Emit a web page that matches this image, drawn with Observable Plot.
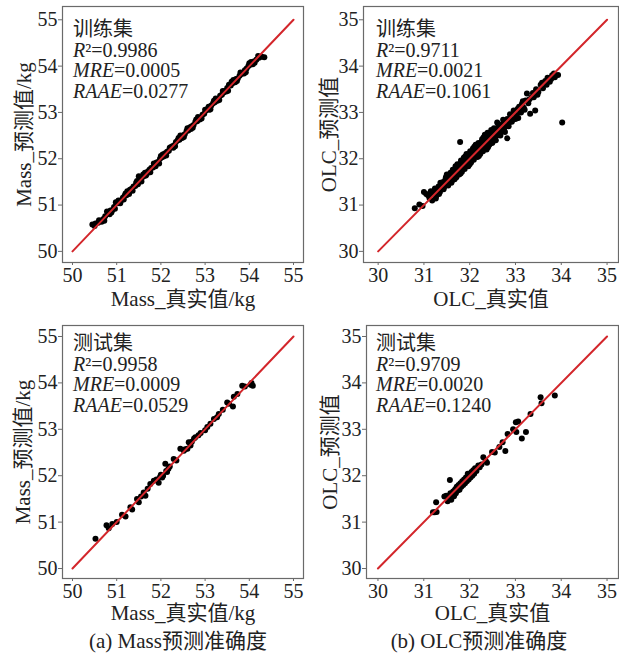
<!DOCTYPE html>
<html>
<head>
<meta charset="utf-8">
<script src="https://cdn.jsdelivr.net/npm/d3@7"></script>
<script src="https://cdn.jsdelivr.net/npm/@observablehq/plot@0.6"></script>
<style>
  html, body { margin: 0; padding: 0; background: #fff; }
  #chart { position: relative; width: 619px; height: 653px; background: #fff; overflow: hidden;
           font-family: "Liberation Serif", "Times New Roman", "Noto Sans CJK SC", serif; color: #222; }
  .panel { position: absolute; }
  .note { position: absolute; font-size: 20px; line-height: 20.6px; white-space: nowrap; color: #222; }
  .note i { font-style: italic; }
  .caption { position: absolute; font-size: 21px; line-height: 22px; text-align: center; white-space: nowrap; color: #222; }
</style>
</head>
<body>
<div id="chart"></div>
<script>
// Tick values for the two quantities
const massTicks = [50, 51, 52, 53, 54, 55];
const olcTicks = [30, 31, 32, 33, 34, 35];

// 1:1 reference line ends
const massDiag = [50, 55];
const olcDiag = [30, 35];

// Mass, training set: [true, predicted] (kg)
const massTrain = [
  [50.45,50.58],[50.52,50.60],[50.58,50.62],[50.64,50.66],[50.66,50.64],[50.70,50.70],[50.74,50.76],
  [50.78,50.86],[50.82,50.84],[50.86,50.88],[50.88,50.84],[50.90,50.89],[50.94,50.96],[50.98,51.06],
  [51.02,51.04],[51.06,51.08],[51.08,51.04],[51.10,51.10],[51.14,51.16],[51.18,51.20],[51.20,51.25],
  [51.22,51.21],[51.26,51.27],[51.28,51.24],[51.30,51.33],[51.34,51.35],[51.38,51.40],[51.42,51.41],
  [51.46,51.52],[51.48,51.45],[51.50,51.62],[51.54,51.56],[51.58,51.60],[51.60,51.66],[51.62,51.63],
  [51.66,51.64],[51.68,51.67],[51.70,51.72],[51.74,51.76],[51.78,51.80],[51.82,51.81],[51.86,51.87],
  [51.88,51.84],[51.90,51.92],[51.94,51.93],[51.98,52.00],[52.00,52.06],[52.02,52.03],[52.06,52.05],
  [52.08,52.10],[52.10,52.12],[52.14,52.15],[52.18,52.17],[52.22,52.25],[52.26,52.27],[52.28,52.24],
  [52.30,52.29],[52.34,52.36],[52.38,52.40],[52.40,52.45],[52.42,52.41],[52.46,52.48],[52.48,52.45],
  [52.50,52.50],[52.54,52.53],[52.58,52.60],[52.62,52.61],[52.66,52.68],[52.68,52.64],[52.70,52.70],
  [52.74,52.73],[52.78,52.80],[52.80,52.85],[52.82,52.81],[52.86,52.87],[52.88,52.85],[52.90,52.88],
  [52.94,52.95],[52.98,52.97],[53.02,53.04],[53.06,53.08],[53.08,53.12],[53.10,53.06],[53.14,53.15],
  [53.18,53.20],[53.20,53.25],[53.22,53.22],[53.26,53.28],[53.28,53.25],[53.30,53.29],[53.34,53.36],
  [53.38,53.38],[53.42,53.43],[53.46,53.47],[53.48,53.45],[53.50,53.53],[53.54,53.60],[53.58,53.58],
  [53.60,53.66],[53.62,53.63],[53.66,53.67],[53.68,53.65],[53.70,53.72],[53.74,53.73],[53.78,53.79],
  [53.82,53.83],[53.86,53.86],[53.88,53.84],[53.90,53.91],[53.94,53.95],[53.98,54.00],[54.00,54.06],
  [54.02,54.03],[54.06,54.06],[54.08,54.04],[54.10,54.10],[54.16,54.14],[54.22,54.18],[54.28,54.20],
  [54.34,54.19],
  [50.50,50.55],[50.60,50.67],[50.72,50.66],[50.84,50.80],[50.96,50.92],[51.04,51.10],[51.16,51.12],
  [51.24,51.30],[51.36,51.31],[51.44,51.48],[51.56,51.51],[51.64,51.70],[51.76,51.71],[51.84,51.90],
  [51.96,51.90],[52.04,52.09],[52.12,52.07],[52.20,52.24],[52.32,52.27],[52.44,52.50],[52.52,52.47],
  [52.60,52.66],[52.72,52.67],[52.84,52.90],[52.92,52.87],[53.00,53.06],[53.12,53.07],[53.24,53.30],
  [53.32,53.27],[53.40,53.46],[53.52,53.47],[53.64,53.70],[53.72,53.68],[53.80,53.86],[53.92,53.87],
  [54.04,54.09],[54.12,54.07],[54.20,54.22]
];

// OLC, training set: [true, predicted]
const olcTrain = [
  [30.80,30.93],[30.90,31.01],[30.97,30.98],[31.00,31.28],[31.05,31.24],[31.09,31.21],[31.12,31.15],
  [31.15,31.30],[31.18,31.10],[31.20,31.25],[31.24,31.36],[31.27,31.20],[31.30,31.32],[31.32,31.40],
  [31.35,31.28],[31.38,31.45],[31.40,31.36],[31.42,31.50],[31.45,31.40],[31.45,31.48],[31.47,31.55],
  [31.50,31.46],[31.50,31.66],[31.52,31.60],[31.55,31.50],[31.55,31.58],[31.57,31.62],[31.60,31.56],
  [31.60,31.48],[31.62,31.70],[31.64,31.60],[31.65,31.67],[31.66,31.74],[31.68,31.64],[31.70,31.78],
  [31.70,31.82],[31.72,31.68],[31.74,31.82],[31.75,31.78],[31.76,31.72],[31.78,31.88],[31.79,32.36],
  [31.80,31.76],[31.80,31.68],[31.82,31.92],[31.84,31.80],[31.85,31.86],[31.86,31.95],[31.88,31.84],
  [31.90,32.00],[31.90,32.05],[31.92,31.88],[31.94,32.04],[31.95,31.97],[31.96,31.90],[31.98,32.08],
  [32.00,31.96],[32.00,31.88],[32.02,32.12],[32.04,32.00],[32.05,32.07],[32.06,32.16],[32.08,32.02],
  [32.10,32.20],[32.10,32.26],[32.12,32.06],[32.14,32.24],[32.15,32.17],[32.16,32.10],[32.18,32.28],
  [32.20,32.14],[32.20,32.06],[32.22,32.30],[32.24,32.18],[32.25,32.26],[32.26,32.36],[32.28,32.22],
  [32.30,32.40],[32.30,32.46],[32.32,32.24],[32.34,32.44],[32.35,32.37],[32.36,32.30],[32.38,32.50],
  [32.40,32.32],[32.40,32.25],[32.42,32.54],[32.44,32.38],[32.45,32.47],[32.46,32.56],[32.48,32.42],
  [32.50,32.58],[32.50,32.36],[32.52,32.44],[32.55,32.62],[32.55,32.48],[32.58,32.50],[32.60,32.66],
  [32.60,32.78],[32.62,32.52],[32.65,32.70],[32.65,32.56],[32.68,32.58],[32.70,32.74],[32.72,32.64],
  [32.75,32.80],[32.75,32.65],[32.78,32.70],[32.82,32.44],[32.82,32.86],[32.86,32.78],[32.90,32.92],
  [32.94,32.84],[32.98,33.00],[33.02,32.94],[33.06,32.88],[33.05,33.08],[33.10,33.02],[33.14,33.18],
  [33.18,33.10],[33.22,33.26],[33.25,33.41],[33.28,33.20],[33.32,32.97],[33.35,33.32],[33.40,33.33],
  [33.43,33.04],[33.45,33.50],[33.50,33.44],[33.55,33.60],[33.60,33.52],[33.65,33.68],[33.70,33.75],
  [33.75,33.66],[33.80,33.80],[33.86,33.76],[33.93,33.81],[34.02,32.78],
  [31.22,31.30],[31.26,31.14],[31.33,31.24],[31.36,31.48],[31.43,31.34],[31.48,31.60],[31.53,31.42],
  [31.58,31.70],[31.61,31.52],[31.63,31.76],[31.67,31.56],[31.69,31.84],[31.71,31.60],[31.73,31.88],
  [31.77,31.66],[31.81,31.96],[31.83,31.72],[31.87,32.02],[31.89,31.78],[31.91,31.94],[31.93,32.10],
  [31.97,31.84],[31.99,32.02],[32.01,32.16],[32.03,31.92],[32.07,32.22],[32.09,31.98],[32.11,32.14],
  [32.13,32.30],[32.17,32.04],[32.19,32.34],[32.21,32.22],[32.23,32.10],[32.27,32.42],[32.29,32.16],
  [32.31,32.32],[32.33,32.52],[32.37,32.20],[32.39,32.56],[32.41,32.40],[32.43,32.30],[32.47,32.62],
  [32.49,32.34],[32.51,32.50],[32.53,32.66],[32.57,32.40],[32.59,32.60],[32.63,32.74],[32.67,32.50],
  [32.71,32.68],[32.73,32.84],[32.77,32.58],[32.85,32.70],[32.88,32.96],[32.92,32.80],[32.96,33.04],
  [33.00,32.86],[33.08,33.12],[33.12,33.00],[33.16,33.24],[33.20,33.06],[33.30,33.28],[33.38,33.42],
  [33.48,33.38],[33.58,33.64],[33.68,33.60],[33.78,33.72],[33.84,33.84]
];

// Mass, test set: [true, predicted] (kg)
const massTest = [
  [50.52,50.64],[50.77,50.93],[50.82,50.87],[50.90,50.96],[51.00,51.00],[51.12,51.16],[51.20,51.12],
  [51.31,51.32],[51.35,51.27],[51.46,51.50],[51.50,51.43],[51.55,51.55],[51.61,51.64],[51.65,51.57],
  [51.70,51.72],[51.76,51.82],[51.84,51.89],[51.90,51.92],[51.95,51.85],[51.98,51.97],[52.00,52.02],
  [52.03,51.96],[52.05,52.00],[52.10,52.26],[52.12,52.10],[52.14,52.08],[52.17,52.15],[52.20,52.20],
  [52.29,52.36],[52.35,52.33],[52.44,52.58],[52.52,52.54],[52.55,52.57],[52.60,52.58],[52.63,52.72],
  [52.67,52.65],[52.70,52.73],[52.75,52.80],[52.78,52.83],[52.85,52.87],[52.90,52.92],[53.00,52.98],
  [53.05,53.05],[53.12,53.12],[53.20,53.22],[53.27,53.26],[53.31,53.33],[53.40,53.42],[53.50,53.58],
  [53.54,53.55],[53.63,53.49],[53.65,53.70],[53.73,53.76],[53.84,53.94],[53.90,53.92],[54.03,53.96],
  [54.05,54.00],[54.08,53.94]
];

// OLC, test set: [true, predicted]
const olcTest = [
  [31.20,31.21],[31.24,31.21],[31.28,31.22],[31.27,31.43],[31.45,31.55],[31.49,31.57],[31.52,31.45],
  [31.55,31.52],[31.57,31.91],[31.58,31.62],[31.60,31.48],[31.62,31.58],[31.64,31.66],[31.65,31.62],
  [31.66,31.56],[31.68,31.70],[31.70,31.62],[31.70,31.72],[31.72,31.76],[31.74,31.68],[31.75,31.74],
  [31.76,31.80],[31.77,31.75],[31.78,31.70],[31.80,31.84],[31.80,31.78],[31.82,31.76],[31.84,31.88],
  [31.85,31.84],[31.86,31.80],[31.88,31.92],[31.90,31.84],[31.90,31.90],[31.92,31.96],[31.94,31.88],
  [31.95,31.94],[31.96,32.04],[31.98,31.92],[32.00,32.02],[32.00,31.98],[32.02,31.96],[32.04,32.08],
  [32.05,32.05],[32.06,32.00],[32.08,32.12],[32.10,32.04],[32.12,32.16],[32.15,32.10],[32.19,32.22],
  [32.22,32.18],[32.26,32.24],[32.30,32.40],[32.35,32.32],[32.38,32.28],[32.49,32.51],[32.55,32.50],
  [32.65,32.62],[32.72,32.72],[32.78,32.53],[32.83,32.90],[32.95,33.00],[33.01,33.15],[33.02,32.94],
  [33.06,33.17],[33.14,32.80],[33.23,32.94],[33.33,33.33],[33.55,33.69],[33.57,33.56],[33.86,33.73]
];

const FONT = '"Liberation Serif", "Times New Roman", "Noto Sans CJK SC", serif';
const RED = "#d3262b";

function scatter({data, diag, ticks, xDomain, yDomain, width, height, margin, xLabel, yLabel, xLabelDy, yLabelDx}) {
  return Plot.plot({
    width, height,
    marginLeft: margin[3], marginRight: margin[1], marginTop: margin[0], marginBottom: margin[2],
    style: {fontFamily: FONT, fontSize: "20px", color: "#222", background: "transparent", overflow: "visible"},
    x: {domain: xDomain},
    y: {domain: yDomain},
    marks: [
      Plot.frame({stroke: "#6a6a6a", strokeWidth: 1.2}),
      Plot.axisX({ticks, tickFormat: "d", tickSize: 3, tickPadding: 2, label: null, stroke: "#6a6a6a"}),
      Plot.axisY({ticks, tickFormat: "d", tickSize: 4, tickPadding: 1, label: null, stroke: "#6a6a6a"}),
      Plot.dot(data, {x: d => d[0], y: d => d[1], r: 3, fill: "#000", stroke: "none"}),
      Plot.line(diag, {x: d => d, y: d => d, stroke: RED, strokeWidth: 2}),
      Plot.text([xLabel], {text: d => d, frameAnchor: "bottom", dy: xLabelDy, textAnchor: "middle", lineAnchor: "middle", fontSize: 21, fill: "#222"}),
      Plot.text([yLabel], {text: d => d, frameAnchor: "left", dx: yLabelDx, rotate: -90, textAnchor: "middle", lineAnchor: "middle", fontSize: 21, fill: "#222"})
    ]
  });
}

const chart = document.getElementById("chart");

function place(node, left, top) {
  node.classList.add("panel");
  node.style.left = left + "px";
  node.style.top = top + "px";
  chart.appendChild(node);
}

// (a) Mass, training
place(scatter({
  data: massTrain, diag: massDiag, ticks: massTicks,
  xDomain: [49.774, 55.226], yDomain: [49.76, 55.287],
  width: 310, height: 310, margin: [6, 7, 48, 62],
  xLabel: "Mass_真实值/kg", yLabel: "Mass_预测值/kg", xLabelDy: 37, yLabelDx: -38
}), 0, 0);

// (b) OLC, training
place(scatter({
  data: olcTrain, diag: olcDiag, ticks: olcTicks,
  xDomain: [29.68, 35.25], yDomain: [29.76, 35.287],
  width: 309, height: 310, margin: [6, 1, 48, 53],
  xLabel: "OLC_真实值", yLabel: "OLC_预测值", xLabelDy: 37, yLabelDx: -34
}), 310, 0);

// (a) Mass, test
place(scatter({
  data: massTest, diag: massDiag, ticks: massTicks,
  xDomain: [49.774, 55.226], yDomain: [49.785, 55.237],
  width: 310, height: 310, margin: [15, 7, 42, 62],
  xLabel: "Mass_真实值/kg", yLabel: "Mass_预测值/kg", xLabelDy: 35, yLabelDx: -39
}), 0, 310);

// (b) OLC, test
place(scatter({
  data: olcTest, diag: olcDiag, ticks: olcTicks,
  xDomain: [29.75, 35.25], yDomain: [29.785, 35.237],
  width: 309, height: 310, margin: [15, 1, 42, 56],
  xLabel: "OLC_真实值", yLabel: "OLC_预测值", xLabelDy: 35, yLabelDx: -36
}), 310, 310);

// Metric notes in the upper-left of each panel
function note(left, top, title, r2, mre, raae) {
  const d = document.createElement("div");
  d.className = "note";
  d.style.left = left + "px";
  d.style.top = top + "px";
  d.innerHTML = `${title}<br><i>R</i>²=${r2}<br><i>MRE</i>=${mre}<br><i>RAAE</i>=${raae}`;
  chart.appendChild(d);
}
note(73, 19, "训练集", "0.9986", "0.0005", "0.0277");
note(376, 19, "训练集", "0.9711", "0.0021", "0.1061");
note(73, 333, "测试集", "0.9958", "0.0009", "0.0529");
note(376, 333, "测试集", "0.9709", "0.0020", "0.1240");

function caption(cx, top, text) {
  const d = document.createElement("div");
  d.className = "caption";
  d.style.left = (cx - 150) + "px";
  d.style.width = "300px";
  d.style.top = top + "px";
  d.textContent = text;
  chart.appendChild(d);
}
caption(178, 630, "(a) Mass预测准确度");
caption(479, 630, "(b) OLC预测准确度");
</script>
</body>
</html>
